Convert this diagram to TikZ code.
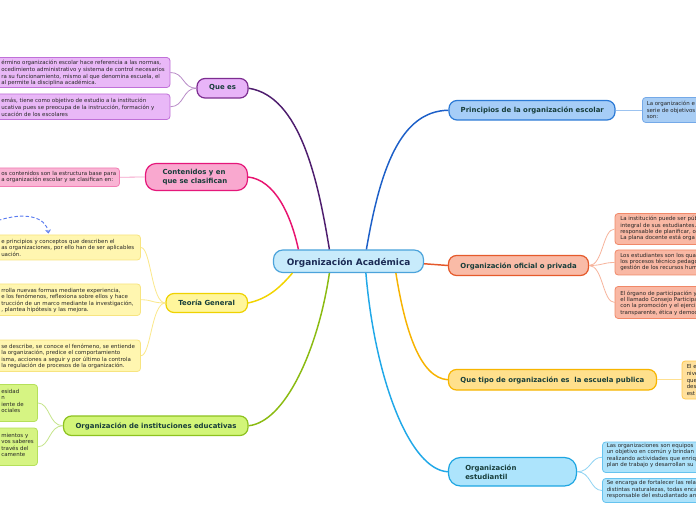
\documentclass[tikz,border=0pt]{standalone}
\usepackage{fontspec}
\setmainfont{DejaVu Sans}
\usetikzlibrary{fit,calc,arrows.meta}
\definecolor{maintext}{HTML}{173D3A}
\definecolor{centtext}{HTML}{1B2B55}
\definecolor{childtext}{HTML}{262626}
% central
\definecolor{cfill}{HTML}{C8EBFB}\definecolor{cdraw}{HTML}{4BA3DB}
% que es (violet)
\definecolor{vfill}{HTML}{E8B4F8}\definecolor{vdraw}{HTML}{7D2D91}
\definecolor{vcfill}{HTML}{E9B8F7}\definecolor{vcdraw}{HTML}{C070D8}
\definecolor{vline}{HTML}{4E1D6E}\definecolor{vtwig}{HTML}{B98CC8}
% contenidos (pink)
\definecolor{pfill}{HTML}{F9A8CF}\definecolor{pdraw}{HTML}{E5177A}
\definecolor{pcfill}{HTML}{F9B4D4}\definecolor{pcdraw}{HTML}{F27DB4}
\definecolor{pline}{HTML}{E8136F}\definecolor{ptwig}{HTML}{F6A0C8}
% teoria (yellow)
\definecolor{yfill}{HTML}{FFF69C}\definecolor{ydraw}{HTML}{EFD200}
\definecolor{ycfill}{HTML}{FFF6B0}\definecolor{ycdraw}{HTML}{F7E480}
\definecolor{yline}{HTML}{F2D400}\definecolor{ytwig}{HTML}{FBE88A}
% instituciones (green)
\definecolor{gfill}{HTML}{D2F578}\definecolor{gdraw}{HTML}{8DC21F}
\definecolor{gcfill}{HTML}{D6F483}\definecolor{gcdraw}{HTML}{B5E05A}
\definecolor{gline}{HTML}{8BBB11}\definecolor{gtwig}{HTML}{C5E58A}
% principios (blue)
\definecolor{bfill}{HTML}{A6CDF7}\definecolor{bdraw}{HTML}{2C7AD6}
\definecolor{bcfill}{HTML}{A8CDF4}\definecolor{bcdraw}{HTML}{74A9E8}
\definecolor{bline}{HTML}{1C5FC8}\definecolor{btwig}{HTML}{9CC3F0}
% oficial (salmon)
\definecolor{ofill}{HTML}{F9BBA7}\definecolor{odraw}{HTML}{E55A2B}
\definecolor{ocfill}{HTML}{F9B8A4}\definecolor{ocdraw}{HTML}{F08868}
\definecolor{oline}{HTML}{E5582A}\definecolor{otwig}{HTML}{F7B49C}
% que tipo (amber)
\definecolor{afill}{HTML}{FFE08C}\definecolor{adraw}{HTML}{F7B500}
\definecolor{acfill}{HTML}{FFE09C}\definecolor{acdraw}{HTML}{FFC84A}
\definecolor{aline}{HTML}{F7B300}\definecolor{atwig}{HTML}{FFE090}
% estudiantil (sky)
\definecolor{sfill}{HTML}{ADE4FC}\definecolor{sdraw}{HTML}{1EA6E2}
\definecolor{scfill}{HTML}{ADE2FA}\definecolor{scdraw}{HTML}{66C3EF}
\definecolor{sline}{HTML}{20A8E8}\definecolor{stwig}{HTML}{8ED3F3}
\definecolor{dashblue}{HTML}{5B7CF0}
\begin{document}
\begin{tikzpicture}[x=0.75pt,y=-0.75pt,
  box/.style={draw, rounded corners=2.4pt, line width=0.6pt, inner sep=0pt},
  mainbox/.style={draw, rounded corners=6pt, line width=0.9pt, inner sep=0pt},
  mlabel/.style={font=\fontsize{5.2}{6.8}\selectfont\bfseries, text=maintext,
    inner sep=0pt, anchor=base},
  ctext/.style={font=\fontsize{4.1}{4.75}\selectfont, text=childtext, align=left,
    inner sep=0pt, anchor=west},
  trunk/.style={line width=1.1pt},
  twig/.style={line width=0.6pt},
]
\clip (0,0) rectangle (696,520);
\fill[white] (0,0) rectangle (696,520);

% ---------- central ----------
\node[mainbox, fill=cfill, draw=cdraw, rounded corners=7pt,
  fit={(273.5,250) (423.5,272.5)}] (c) {};
\node[mlabel, font=\fontsize{6.7}{8}\selectfont\bfseries, text=centtext]
  (cL) at (348.6,265.4) {Organización Académica};

% ---------- main branches ----------
\node[mainbox, fill=vfill, draw=vdraw, fit={(197,78.5) (248,98)}] (qe) {};
\node[mlabel] (qeL) at (222.6,89.8) {Que es};
\node[mainbox, fill=pfill, draw=pdraw, rounded corners=8pt,
  fit={(145.5,163.5) (247.5,190.5)}] (ct) {};
\node[mlabel, anchor=west, align=left, font=\fontsize{5.2}{6.75}\selectfont\bfseries]
  (ctL) at (162.3,177) {Contenidos y en\\que se clasifican};
\node[mainbox, fill=yfill, draw=ydraw, fit={(166,293.5) (247.5,312.5)}] (tg) {};
\node[mlabel] (tgL) at (206.7,305.8) {Teoría General};
\node[mainbox, fill=gfill, draw=gdraw, fit={(63.5,416) (248,435.5)}] (ie) {};
\node[mlabel] (ieL) at (156,428.2) {Organización de instituciones educativas};
\node[mainbox, fill=bfill, draw=bdraw, fit={(449,100.5) (615,120)}] (pr) {};
\node[mlabel] (prL) at (532.3,113) {Principios de la organización escolar};
\node[mainbox, fill=ofill, draw=odraw, fit={(448.5,255.5) (588.5,275.5)}] (of) {};
\node[mlabel] (ofL) at (518.6,268.4) {Organización oficial o privada};
\node[mainbox, fill=afill, draw=adraw, fit={(448.5,369.5) (656.5,390)}] (qt) {};
\node[mlabel] (qtL) at (552.4,382.4) {Que tipo de organización es\ \ la escuela publica};
\node[mainbox, fill=sfill, draw=sdraw, rounded corners=9pt,
  fit={(448.5,457.5) (576.5,486)}] (es) {};
\node[mlabel, anchor=west, align=left, font=\fontsize{5.2}{7}\selectfont\bfseries]
  (esL) at (465,472) {Organización\\estudiantil};

% ---------- trunk connectors ----------
\draw[trunk, vline] ($(c.north west)+(56.5,0)$) .. controls (318,180) and (300,96) .. (qe.east);
\draw[trunk, pline] ($(c.north west)+(25.5,0)$) .. controls (291,215) and (275,180) .. (ct.east);
\draw[trunk, yline] ($(c.south west)+(19.5,0)$) .. controls (278,290) and (266,299) .. (tg.east);
\draw[trunk, gline] ($(c.south west)+(56.5,0)$) .. controls (318,350) and (285,422) .. (ie.east);
\draw[trunk, bline] ($(c.north west)+(93.5,0)$) .. controls (380,170) and (400,111) .. (pr.west);
\draw[trunk, oline] ($(c.east)+(0,2.5)$) -- (of.west);
\draw[trunk, aline] ($(c.south west)+(123,0)$) .. controls (405,330) and (420,378) .. (qt.west);
\draw[trunk, sline] ($(c.south west)+(93,0)$) .. controls (375,380) and (410,470) .. (es.west);

% ---------- Que es children ----------
\node[box, fill=vcfill, draw=vcdraw, fit={(-20,57.5) (170,87.5)}] (qe1) {};
\node[ctext, font=\fontsize{4.1}{5}\selectfont] (qe1t) at (1,73.3) {érmino organización escolar hace referencia a las normas,\\ocedimiento administrativo y sistema de control necesarios\\ra su funcionamiento, mismo al que denomina escuela, el\\al permite la disciplina académica.};
\node[box, fill=vcfill, draw=vcdraw, fit={(-20,94) (170,119.5)}] (qe2) {};
\node[ctext, font=\fontsize{4.1}{5.4}\selectfont] (qe2t) at (1,107.5) {emás, tiene como objetivo de estudio a la institución\\ucativa pues se preocupa de la instrucción, formación y\\ucación de los escolares};
\draw[twig, vtwig] (qe.west) .. controls +(-14,0) and +(14,0) .. (qe1.east);
\draw[twig, vtwig] (qe.west) .. controls +(-14,0) and +(14,0) .. (qe2.east);

% ---------- Contenidos child ----------
\node[box, fill=pcfill, draw=pcdraw, fit={(-20,168) (119.5,186.5)}] (ct1) {};
\node[ctext] (ct1t) at (1,177.3) {os contenidos son la estructura base para\\a organización escolar y se clasifican en:};
\draw[twig, ptwig] (ct.west) -- (ct1.east);

% ---------- Teoria children ----------
\node[box, fill=ycfill, draw=ycdraw, fit={(-20,235) (140.5,260)}] (tg1) {};
\node[ctext] (tg1t) at (1,247.7) {e principios y conceptos que describen el\\as organizaciones, por ello han de ser aplicables\\uación.};
\node[box, fill=ycfill, draw=ycdraw, fit={(-20,284) (140.5,315.5)}] (tg2) {};
\node[ctext] (tg2t) at (1,300.5) {rrolla nuevas formas mediante experiencia,\\e los fenómenos, reflexiona sobre ellos y hace\\trucción de un marco mediante la investigación,\\, plantea hipótesis y las mejora.};
\node[box, fill=ycfill, draw=ycdraw, fit={(-20,340) (140.5,371.5)}] (tg3) {};
\node[ctext] (tg3t) at (1,356.3) {se describe, se conoce el fenómeno, se entiende\\la organización, predice el comportamiento\\isma, acciones a seguir y por último la controla\\la regulación de procesos de la organización.};
\draw[twig, ytwig] (tg.west) .. controls +(-14,0) and +(10,0) .. (tg1.east);
\draw[twig, ytwig] (tg.west) .. controls +(-14,0) and +(12,0) .. (tg2.east);
\draw[twig, ytwig] (tg.west) .. controls +(-14,0) and +(10,0) .. (tg3.east);
% dashed arrow
\coordinate (dstart) at (-2,220.5);
\coordinate (dend) at (48.5,233.5);
\draw[dashblue, line width=0.7pt, dash pattern=on 2.6pt off 1.6pt, -{Straight Barb[length=2.2pt,width=3.6pt]}]
  (dstart) .. controls (24,212) and (46,216) .. (dend);

% ---------- Instituciones children ----------
\node[box, fill=gcfill, draw=gcdraw, fit={(-20,384.5) (37.5,421.5)}] (ie1) {};
\node[ctext] (ie1t) at (1,401) {esidad\\n\\iente de\\ociales};
\node[box, fill=gcfill, draw=gcdraw, fit={(-20,428) (37.5,465.5)}] (ie2) {};
\node[ctext] (ie2t) at (1,444.8) {mientos y\\vos saberes\\través del\\camente};
\draw[twig, gtwig] (ie.west) .. controls +(-14,0) and +(12,0) .. (ie1.east);
\draw[twig, gtwig] (ie.west) .. controls +(-14,0) and +(12,0) .. (ie2.east);

% ---------- Principios child ----------
\node[box, fill=bcfill, draw=bcdraw, fit={(642.5,97.5) (720,122.5)}] (pr1) {};
\node[ctext] (pr1t) at (646.5,110) {La organización e\\serie de objetivos\\son:};
\draw[twig, btwig] (pr.east) -- (pr1.west |- pr.east);

% ---------- Oficial children ----------
\node[box, fill=ocfill, draw=ocdraw, fit={(615,213.5) (720,244.5)}] (of1) {};
\node[ctext] (of1t) at (620,228.8) {La institución puede ser púb\\integral de sus estudiantes.\\responsable de planificar, o\\La plana docente está orga};
\node[box, fill=ocfill, draw=ocdraw, fit={(615,250) (720,275)}] (of2) {};
\node[ctext] (of2t) at (620,262) {Los estudiantes son los qua\\los procesos técnico pedago\\gestión de los recursos hum};
\node[box, fill=ocfill, draw=ocdraw, fit={(615,286.5) (720,318.5)}] (of3) {};
\node[ctext] (of3t) at (620,303) {El órgano de participación y\\el llamado Consejo Participa\\con la promoción y el ejerci\\transparente, ética y democ};
\draw[twig, otwig] (of.east) .. controls +(14,0) and +(-12,0) .. (of1.west);
\draw[twig, otwig] (of.east) .. controls +(14,0) and +(-12,0) .. (of2.west);
\draw[twig, otwig] (of.east) .. controls +(14,0) and +(-12,0) .. (of3.west);

% ---------- Que tipo child ----------
\node[box, fill=acfill, draw=acdraw, fit={(682,361) (720,399)}] (qt1) {};
\node[ctext, font=\fontsize{4.1}{5}\selectfont] (qt1t) at (686.5,380) {El e\\nive\\que\\des\\est};
\draw[twig, atwig] (qt.east) -- (qt1.west |- qt.east);

% ---------- Estudiantil children ----------
\node[box, fill=scfill, draw=scdraw, fit={(602.5,442) (720,472.5)}] (es1) {};
\node[ctext] (es1t) at (606.5,455.5) {Las organizaciones son equipos\\un objetivo en común y brindan\\realizando actividades que enriq\\plan de trabajo y desarrollan su};
\node[box, fill=scfill, draw=scdraw, fit={(602.5,478.5) (720,502.5)}] (es2) {};
\node[ctext] (es2t) at (606.5,489.8) {Se encarga de fortalecer las rela\\distintas naturalezas, todas enca\\responsable del estudiantado an};
\draw[twig, stwig] (es.east) .. controls +(14,0) and +(-12,0) .. (es1.west);
\draw[twig, stwig] (es.east) .. controls +(14,0) and +(-12,0) .. (es2.west);
\end{tikzpicture}
\end{document}
